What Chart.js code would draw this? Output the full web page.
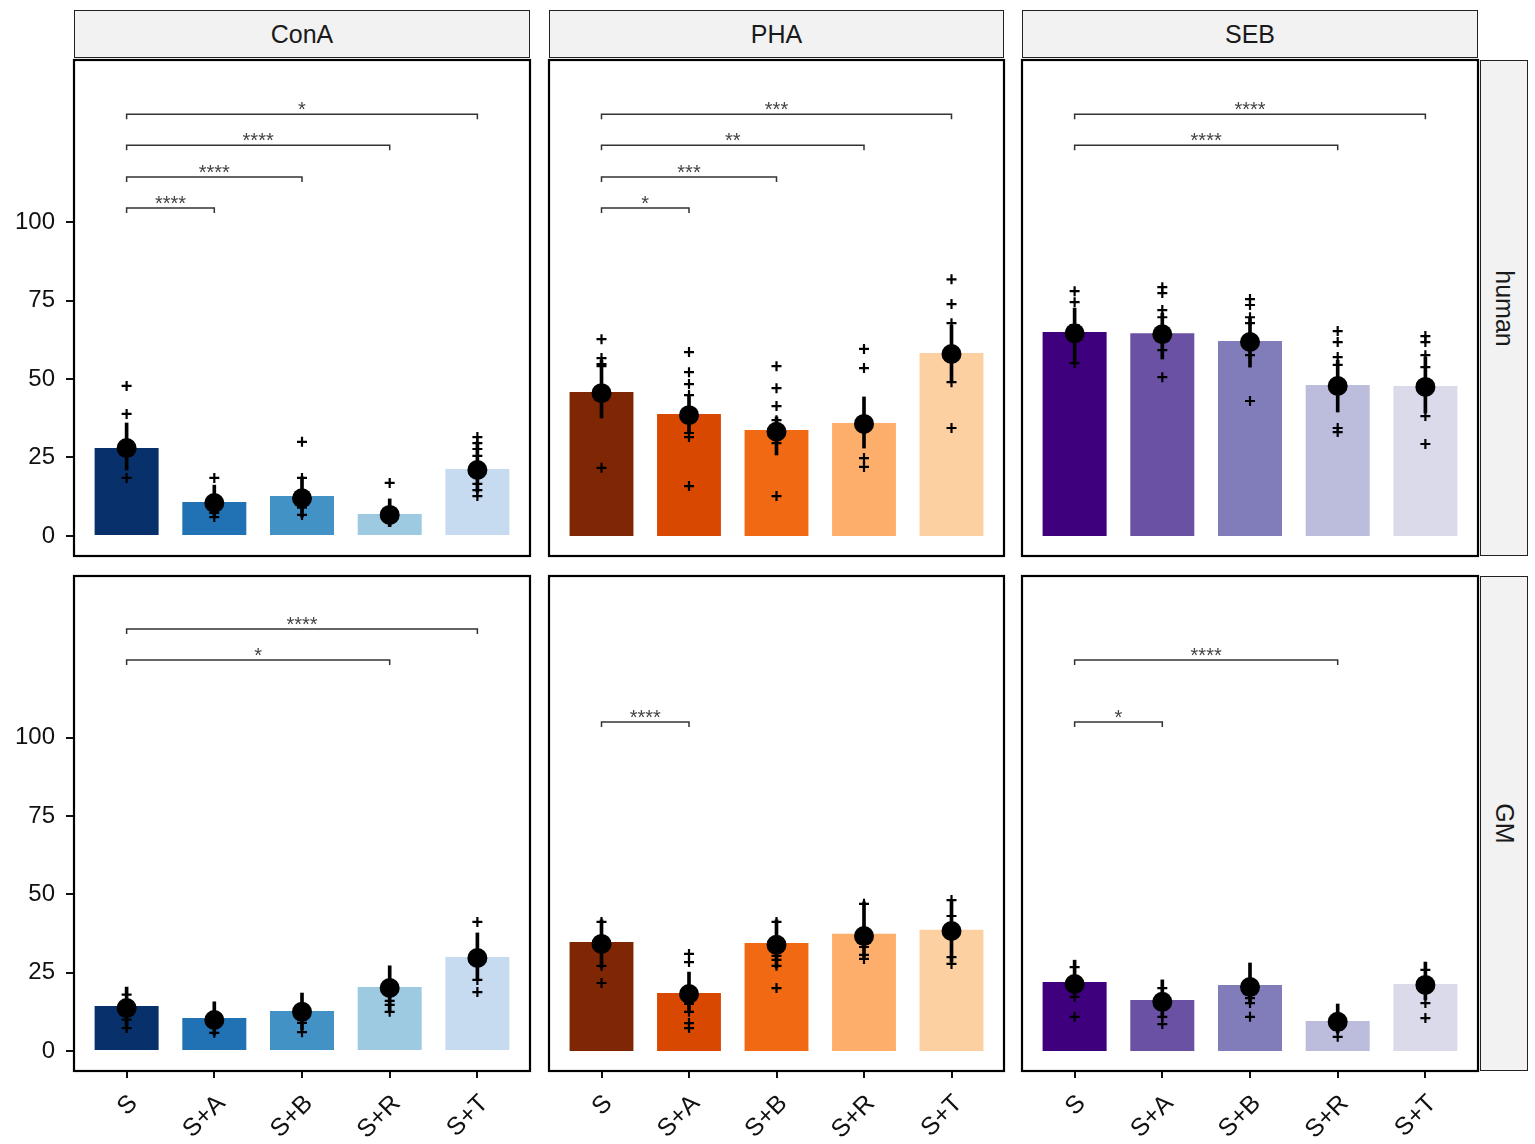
<!DOCTYPE html>
<html>
<head>
<meta charset="utf-8">
<script src="https://cdn.jsdelivr.net/npm/chart.js@4.4.1/dist/chart.umd.min.js"></script>
<style>
  html, body { margin: 0; padding: 0; background: #fff; }
  #wrap { position: relative; width: 1535px; height: 1144px; font-family: "Liberation Sans", Arial, sans-serif; }
  .strip { position: absolute; box-sizing: border-box; background: #f2f2f2; border: 1.5px solid #222;
           color: #1a1a1a; font-size: 25px; display: flex; align-items: center; justify-content: center; }
  .strip.side span { transform: rotate(90deg); white-space: nowrap; }
  canvas { position: absolute; }
</style>
</head>
<body>
<div id="wrap"></div>
<script>
// ─── DATA ──────────────────────────────────────────────
const groups = ['S', 'S+A', 'S+B', 'S+R', 'S+T'];
const stimuli = ['ConA', 'PHA', 'SEB'];
const hosts = ['human', 'GM'];
const yTicks = [0, 25, 50, 75, 100];

const bluesPalette = ['#08306B', '#2171B5', '#4292C6', '#9ECAE1', '#C6DBEF'];
const orangesPalette = ['#7F2704', '#D94801', '#F16913', '#FDAE6B', '#FDD0A2'];
const purplesPalette = ['#3F007D', '#6A51A3', '#807DBA', '#BCBDDC', '#DADAEB'];

// ConA / human
const conaHumanBar = [28.0, 10.8, 12.7, 7.0, 21.3];
const conaHumanMean = [28.0, 10.5, 12.0, 6.7, 21.0];
const conaHumanLow = [21.0, 6.0, 6.0, 3.0, 14.0];
const conaHumanHigh = [36.0, 16.2, 18.8, 11.8, 30.0];
const conaHumanPts = [
    [47.8, 38.9, 29.5, 27.0, 18.5],
    [18.5, 12.0, 10.0, 9.0, 7.3, 6.0],
    [30.0, 18.5, 13.0, 11.0, 9.0, 6.7],
    [16.9, 7.5, 6.0, 5.0, 4.5],
    [31.5, 29.6, 27.7, 25.5, 22.6, 20.0, 16.6, 14.6, 12.7]
];
const conaHumanSig = [[1, 2, 104.5, '****'], [1, 3, 114.4, '****'], [1, 4, 124.5, '****'], [1, 5, 134.4, '*']];

// PHA / human
const phaHumanBar = [45.9, 38.9, 33.8, 36.0, 58.3];
const phaHumanMean = [45.5, 38.5, 33.2, 35.7, 58.0];
const phaHumanLow = [37.6, 32.8, 25.8, 28.0, 49.0];
const phaHumanHigh = [56.0, 45.0, 37.9, 44.3, 67.2];
const phaHumanPts = [
    [62.7, 56.7, 54.8, 54.1, 45.0, 21.7],
    [58.6, 52.2, 48.4, 44.9, 38.0, 32.8, 31.5, 15.9],
    [54.1, 47.1, 41.4, 36.9, 33.0, 29.6, 12.7],
    [59.6, 53.5, 36.0, 24.8, 22.0],
    [81.8, 73.9, 67.8, 58.0, 49.0, 34.4]
];
const phaHumanSig = [[1, 2, 104.5, '*'], [1, 3, 114.4, '***'], [1, 4, 124.5, '**'], [1, 5, 134.4, '***']];

// SEB / human
const sebHumanBar = [65.0, 64.6, 62.1, 48.1, 47.8];
const sebHumanMean = [64.6, 64.3, 61.8, 47.8, 47.5];
const sebHumanLow = [55.1, 56.4, 53.8, 39.5, 39.2];
const sebHumanHigh = [72.6, 71.0, 69.4, 56.0, 57.0];
const sebHumanPts = [
    [78.0, 74.5, 67.2, 64.0, 62.0, 55.1],
    [79.3, 77.4, 72.0, 69.7, 64.0, 59.2, 50.6],
    [75.5, 73.6, 69.7, 67.8, 62.0, 57.6, 43.0],
    [65.3, 61.8, 57.0, 54.5, 48.0, 34.4, 33.1],
    [63.7, 61.8, 57.6, 53.8, 47.0, 38.2, 29.3]
];
const sebHumanSig = [[1, 4, 124.5, '****'], [1, 5, 134.4, '****']];

// ConA / GM
const conaGmBar = [14.4, 10.5, 12.8, 20.4, 30.0];
const conaGmMean = [13.7, 9.9, 12.5, 20.1, 29.7];
const conaGmLow = [7.3, 5.1, 6.7, 12.5, 22.7];
const conaGmHigh = [20.4, 15.7, 18.5, 27.2, 37.7];
const conaGmPts = [
    [18.0, 15.0, 13.0, 10.0, 7.3],
    [12.0, 10.0, 8.0, 5.8],
    [15.0, 12.0, 9.0, 6.0],
    [20.0, 16.0, 14.7, 12.5],
    [41.2, 30.0, 22.7, 18.8]
];
const conaGmSig = [[1, 4, 124.9, '*'], [1, 5, 134.8, '****']];

// PHA / GM
const phaGmBar = [34.8, 18.5, 34.5, 37.4, 38.7];
const phaGmMean = [34.2, 18.2, 33.9, 36.7, 38.3];
const phaGmLow = [26.5, 12.5, 26.5, 30.0, 28.4];
const phaGmHigh = [41.9, 25.2, 41.9, 47.6, 48.2];
const phaGmPts = [
    [41.2, 34.0, 27.2, 21.7],
    [31.0, 28.4, 18.0, 15.0, 12.5, 8.9, 7.3],
    [41.2, 34.0, 30.4, 29.1, 27.2, 20.1],
    [47.0, 37.0, 33.2, 30.7, 29.4],
    [48.2, 43.1, 38.0, 30.0, 27.8]
];
const phaGmSig = [[1, 2, 105.1, '****']];

// SEB / GM
const sebGmBar = [22.0, 16.3, 21.1, 9.6, 21.4];
const sebGmMean = [21.4, 15.7, 20.4, 9.3, 21.1];
const sebGmLow = [17.9, 10.5, 15.7, 5.8, 16.3];
const sebGmHigh = [29.0, 22.7, 28.1, 15.0, 28.4];
const sebGmPts = [
    [26.8, 21.0, 17.3, 10.9],
    [20.1, 16.0, 10.9, 8.6],
    [20.0, 16.9, 15.3, 10.9],
    [9.0, 6.7, 4.5],
    [25.9, 21.0, 15.3, 10.5]
];
const sebGmSig = [[1, 2, 105.1, '*'], [1, 4, 124.9, '****']];

// ─── LAYOUT ────────────────────────────────────────────
const FONT = '"Liberation Sans", Arial, sans-serif';
const colLeft = [74, 549, 1022];
const colRight = [530, 1004, 1478];
const rowTop = [60, 576];
const rowBottom = [556, 1071];

const panels = [
    { col: 0, row: 0, colors: bluesPalette, bar: conaHumanBar, mean: conaHumanMean, low: conaHumanLow, high: conaHumanHigh, pts: conaHumanPts, sig: conaHumanSig },
    { col: 1, row: 0, colors: orangesPalette, bar: phaHumanBar, mean: phaHumanMean, low: phaHumanLow, high: phaHumanHigh, pts: phaHumanPts, sig: phaHumanSig },
    { col: 2, row: 0, colors: purplesPalette, bar: sebHumanBar, mean: sebHumanMean, low: sebHumanLow, high: sebHumanHigh, pts: sebHumanPts, sig: sebHumanSig },
    { col: 0, row: 1, colors: bluesPalette, bar: conaGmBar, mean: conaGmMean, low: conaGmLow, high: conaGmHigh, pts: conaGmPts, sig: conaGmSig },
    { col: 1, row: 1, colors: orangesPalette, bar: phaGmBar, mean: phaGmMean, low: phaGmLow, high: phaGmHigh, pts: phaGmPts, sig: phaGmSig },
    { col: 2, row: 1, colors: purplesPalette, bar: sebGmBar, mean: sebGmMean, low: sebGmLow, high: sebGmHigh, pts: sebGmPts, sig: sebGmSig }
];

const wrap = document.getElementById('wrap');

// strips
stimuli.forEach((name, c) => {
    const d = document.createElement('div');
    d.className = 'strip';
    d.style.left = colLeft[c] + 'px';
    d.style.top = '10px';
    d.style.width = (colRight[c] - colLeft[c]) + 'px';
    d.style.height = '48px';
    d.textContent = name;
    wrap.appendChild(d);
});
hosts.forEach((name, r) => {
    const d = document.createElement('div');
    d.className = 'strip side';
    d.style.left = '1480px';
    d.style.top = rowTop[r] + 'px';
    d.style.width = '48px';
    d.style.height = (rowBottom[r] - rowTop[r]) + 'px';
    const s = document.createElement('span');
    s.textContent = name;
    d.appendChild(s);
    wrap.appendChild(d);
});

function makePanel(p) {
    const c = p.col, r = p.row;
    const left = c === 0 ? 0 : colLeft[c] - 4;
    const top = rowTop[r] - 4;
    const right = colRight[c] + 4;
    const bottom = r === 1 ? 1144 : rowBottom[r] + 4;

    const cv = document.createElement('canvas');
    cv.width = right - left;
    cv.height = bottom - top;
    cv.style.left = left + 'px';
    cv.style.top = top + 'px';
    wrap.appendChild(cv);

    const datasets = [];
    // bars
    datasets.push({
        type: 'bar',
        data: p.bar.map((v, i) => ({ x: i + 1, y: v })),
        backgroundColor: p.colors,
        barPercentage: 0.73,
        categoryPercentage: 1,
        grouped: false,
        order: 5
    });
    // error bars (floating thin bars)
    datasets.push({
        type: 'bar',
        data: p.low.map((v, i) => ({ x: i + 1, y: [v, p.high[i]] })),
        backgroundColor: '#000',
        barThickness: 3,
        grouped: false,
        order: 4
    });
    // individual values
    const pts = [];
    p.pts.forEach((arr, i) => arr.forEach(v => pts.push({ x: i + 1, y: v })));
    datasets.push({
        type: 'scatter',
        data: pts,
        pointStyle: 'cross',
        pointRadius: 5,
        borderColor: '#000',
        borderWidth: 2.2,
        order: 3
    });
    // means
    datasets.push({
        type: 'scatter',
        data: p.mean.map((v, i) => ({ x: i + 1, y: v })),
        pointRadius: 10,
        backgroundColor: '#000',
        borderWidth: 0,
        order: 2
    });
    // significance brackets
    p.sig.forEach(s => {
        datasets.push({
            type: 'line',
            data: [{ x: s[0], y: s[2] - 1.6 }, { x: s[0], y: s[2] }, { x: s[1], y: s[2] }, { x: s[1], y: s[2] - 1.6 }],
            borderColor: '#333',
            borderWidth: 1.5,
            pointRadius: 0,
            fill: false,
            tension: 0,
            order: 1
        });
    });

    const panelFrame = {
        id: 'panelFrame',
        afterDatasetsDraw(chart) {
            const { ctx, chartArea: a, scales: { x, y } } = chart;
            ctx.save();
            ctx.fillStyle = '#444';
            ctx.font = '20px ' + FONT;
            ctx.textAlign = 'center';
            ctx.textBaseline = 'alphabetic';
            p.sig.forEach(s => {
                ctx.fillText(s[3], x.getPixelForValue((s[0] + s[1]) / 2), y.getPixelForValue(s[2]) + 2);
            });
            ctx.strokeStyle = '#000';
            ctx.lineWidth = 2.2;
            ctx.strokeRect(a.left, a.top, a.right - a.left, a.bottom - a.top);
            ctx.restore();
        }
    };

    new Chart(cv, {
        type: 'bar',
        data: { datasets },
        plugins: [panelFrame],
        options: {
            responsive: false,
            animation: false,
            events: [],
            layout: { autoPadding: false, padding: { left: c === 0 ? 0 : 4, right: 4, top: 4, bottom: r === 1 ? 0 : 4 } },
            plugins: { legend: { display: false }, tooltip: { enabled: false } },
            scales: {
                x: {
                    type: 'linear',
                    min: 0.4,
                    max: 5.6,
                    offset: false,
                    display: r === 1,
                    afterBuildTicks: s => { s.ticks = groups.map((g, i) => ({ value: i + 1 })); },
                    afterFit: s => {
                        if (r === 1) s.height = 73;
                        s.paddingLeft = 0; s.paddingRight = 0;
                    },
                    ticks: {
                        callback: v => groups[Math.round(v) - 1],
                        minRotation: 45,
                        maxRotation: 45,
                        autoSkip: false,
                        color: '#111',
                        font: { size: 25, family: FONT },
                        padding: 11,
                        labelOffset: 7
                    },
                    grid: { display: true, offset: false, drawOnChartArea: false, drawTicks: true, tickLength: 7, color: '#111', lineWidth: 2 },
                    border: { display: false }
                },
                y: {
                    type: 'linear',
                    min: -6.4,
                    max: 151.7,
                    display: c === 0,
                    afterBuildTicks: s => { s.ticks = yTicks.map(v => ({ value: v })); },
                    afterFit: s => {
                        if (c === 0) s.width = 74;
                        s.paddingTop = 0; s.paddingBottom = 0;
                    },
                    ticks: { color: '#111', font: { size: 24, family: FONT }, padding: 11 },
                    grid: { display: true, offset: false, drawOnChartArea: false, drawTicks: true, tickLength: 8, color: '#111', lineWidth: 2 },
                    border: { display: false }
                }
            }
        }
    });
}

panels.forEach(makePanel);
</script>
</body>
</html>
